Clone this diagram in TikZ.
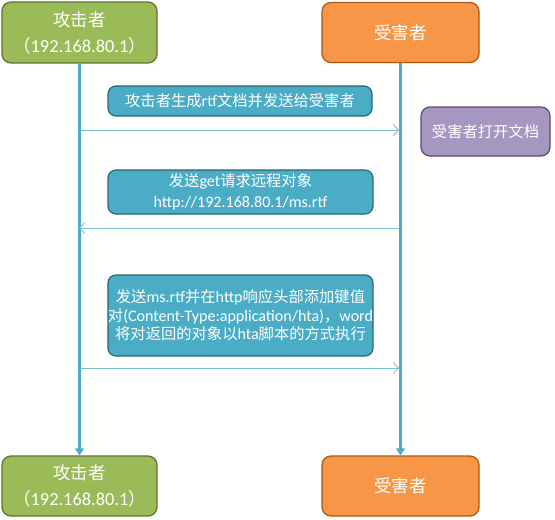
\documentclass[tikz,border=0pt]{standalone}
\usepackage{fontspec}
\setmainfont[Scale=1.05]{Carlito}
\newfontfamily\cjk{Noto Sans CJK SC}
\usetikzlibrary{arrows.meta}
\definecolor{gfill}{HTML}{9BBB59}
\definecolor{gdraw}{HTML}{5E7530}
\definecolor{ofill}{HTML}{F79646}
\definecolor{odraw}{HTML}{B25811}
\definecolor{tfill}{HTML}{4BACC6}
\definecolor{tdraw}{HTML}{2A6475}
\definecolor{pfill}{HTML}{A597BF}
\definecolor{pdraw}{HTML}{5C4A7A}
\definecolor{lline}{HTML}{4BACC6}
\definecolor{mline}{HTML}{7EC0D3}
\tikzset{
  actorbox/.style={draw, line width=1.3pt, rounded corners=9pt, text=white, align=center, inner sep=0pt},
  attacker/.style={actorbox, fill=gfill, draw=gdraw, font=\fontsize{17.5}{26}\selectfont},
  victim/.style={actorbox, fill=ofill, draw=odraw, font=\fontsize{17.5}{26}\selectfont},
  msgbox/.style={draw=tdraw, fill=tfill, line width=1.2pt, rounded corners=8pt, text=white, align=center, inner sep=0pt},
  notebox/.style={draw=pdraw, fill=pfill, line width=1.2pt, rounded corners=9pt, text=white, align=center, inner sep=0pt, font=\fontsize{15.3}{18}\selectfont},
  lifeline/.style={draw=lline, line width=2.6pt, -{Triangle[length=7pt,width=9pt]}},
  msgarrow/.style={draw=mline, line width=0.9pt, -{Straight Barb[length=5pt,width=11pt]}}
}
\begin{document}
\begin{tikzpicture}[x=1pt,y=-1pt]
\useasboundingbox (0,0) rectangle (555,520);
% actors
\node[attacker, minimum width=155pt, minimum height=61pt] (tl) at (79.5,32.5)
  {{\cjk 攻击者}\\{\cjk （}192.168.80.1{\cjk ）}};
\node[victim, minimum width=157pt, minimum height=60pt] (tr) at (400.5,32.5) {\cjk 受害者};
\node[attacker, minimum width=155pt, minimum height=60pt] (bl) at (79.5,486)
  {{\cjk 攻击者}\\{\cjk （}192.168.80.1{\cjk ）}};
\node[victim, minimum width=157pt, minimum height=60pt] (br) at (400.5,486) {\cjk 受害者};
% lifelines
\draw[lifeline] (tl.south) -- (bl.north);
\draw[lifeline] (tr.south) -- (br.north);
% message boxes
\node[msgbox, minimum width=264pt, minimum height=30pt, font=\fontsize{15.3}{18}\selectfont] (m1) at (240,101)
  {{\cjk 攻击者生成}rtf{\cjk 文档并发送给受害者}};
\node[notebox, minimum width=129pt, minimum height=49pt] (n1) at (485.5,131.5) {\cjk 受害者打开文档};
\node[msgbox, minimum width=265pt, minimum height=44pt, font=\fontsize{15.3}{20.5}\selectfont] (m2) at (240.5,192)
  {{\cjk 发送}get{\cjk 请求远程对象}\\http://192.168.80.1/ms.rtf};
\node[msgbox, minimum width=265pt, minimum height=81pt, font=\fontsize{15.3}{18.5}\selectfont] (m3) at (240.5,315.5)
  {{\cjk 发送}ms.rtf{\cjk 并在}http{\cjk 响应头部添加键值}\\
   {\cjk 对}(Content-Type:application/hta){\cjk ，}word\\
   {\cjk 将对返回的对象以}hta{\cjk 脚本的方式执行}};
% message arrow endpoints
\coordinate (a1s) at (79,130);
\coordinate (a1e) at (399,130);
\coordinate (a2s) at (399,228);
\coordinate (a2e) at (79,228);
\coordinate (a3s) at (79,368);
\coordinate (a3e) at (399,368);
\draw[msgarrow] (a1s) -- (a1e);
\draw[msgarrow] (a2s) -- (a2e);
\draw[msgarrow] (a3s) -- (a3e);
\end{tikzpicture}
\end{document}
